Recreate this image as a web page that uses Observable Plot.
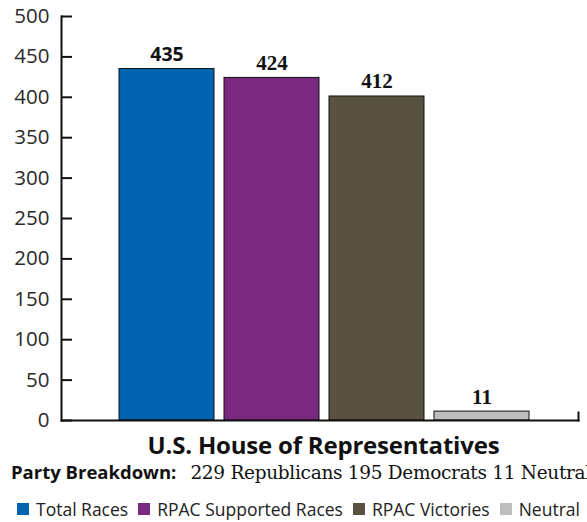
<!DOCTYPE html>
<html>
<head>
<meta charset="utf-8">
<script src="https://cdn.jsdelivr.net/npm/d3@7"></script>
<script src="https://cdn.jsdelivr.net/npm/@observablehq/plot@0.6"></script>
<style>
  body { margin: 0; background: #fff; width: 587px; overflow: hidden; }
  #chart svg { display: block; }
  .title { font-family: "Open Sans", sans-serif; font-weight: 700; font-size: 24px; color: #111;
           text-align: center; padding-left: 60px; margin-top: -1px; line-height: 27px; letter-spacing: -0.2px; }
  .sub { white-space: nowrap; margin-top: 2px; margin-left: 11px; line-height: 24px; }
  .sub b { font-family: "Open Sans", sans-serif; font-weight: 700; font-size: 18.5px; color: #111; }
  .sub span { font-family: "DejaVu Serif", serif; font-size: 18.5px; color: #111; margin-left: 14px; letter-spacing: -0.3px; }
  .legend { display: flex; margin-top: 11px; margin-left: 17px; font-family: "Open Sans", sans-serif; font-size: 17.5px; color: #222; white-space: nowrap; }
  .legend .item { display: flex; align-items: center; margin-right: 10px; }
  .legend .sw { width: 12px; height: 12px; margin-right: 7px; }
</style>
</head>
<body>
<div id="chart"></div>
<div class="title">U.S. House of Representatives</div>
<div class="sub"><b>Party Breakdown:</b><span>229 Republicans 195 Democrats 11 Neutral</span></div>
<div class="legend" id="legend"></div>
<script>
const categories = ["Total Races", "RPAC Supported Races", "RPAC Victories", "Neutral"];
const barValues = [435, 424, 401, 11];
const barLabels = ["435", "424", "412", "11"];
const colors = ["#0063B0", "#7A2980", "#5A5240", "#BDBDBD"];
const yTicks = [0, 50, 100, 150, 200, 250, 300, 350, 400, 450, 500];

const data = categories.map((c, i) => ({category: c, value: barValues[i], label: barLabels[i], color: colors[i], i}));

const W = 587, H = 432, mL = 61, mR = 9, mT = 16, mB = 12;

const chart = Plot.plot({
  width: W, height: H,
  marginLeft: mL, marginRight: mR, marginTop: mT, marginBottom: mB,
  x: {domain: categories, paddingInner: 0.1, paddingOuter: 0.5, align: 0.54, axis: null},
  y: {domain: [0, 500], axis: null},
  style: {background: "#fff"},
  marks: [
    Plot.barY(data, {x: "category", y: "value", fill: "color", stroke: "#111", strokeWidth: 1}),
    Plot.axisY(yTicks, {tickSize: 0, tickPadding: 12, fontSize: 20.5, fontFamily: "Open Sans", fill: "#2a2a2a", label: null}),
    Plot.ruleY(yTicks, {stroke: "#111", strokeWidth: 2, insetRight: W - mL - mR - 11}),
    Plot.frame({anchor: "left", stroke: "#111", strokeWidth: 2}),
    Plot.frame({anchor: "bottom", stroke: "#111", strokeWidth: 2}),
    Plot.frame({anchor: "right", stroke: "#111", strokeWidth: 2, insetTop: H - mT - mB - 8}),
    Plot.text(data.filter(d => d.i === 0), {x: "category", y: "value", text: "label", lineAnchor: "bottom", dy: -8,
      fontFamily: "Open Sans", fontWeight: "bold", fontSize: 19.5, fill: "#111"}),
    Plot.text(data.filter(d => d.i > 0), {x: "category", y: "value", text: "label", lineAnchor: "bottom", dy: -8,
      fontFamily: "Liberation Serif", fontWeight: "bold", fontSize: 21, fill: "#111"})
  ]
});
document.getElementById("chart").append(chart);

const legend = document.getElementById("legend");
categories.forEach((c, i) => {
  const it = document.createElement("div");
  it.className = "item";
  const sw = document.createElement("div");
  sw.className = "sw";
  sw.style.background = colors[i];
  it.append(sw, document.createTextNode(c));
  legend.append(it);
});
</script>
</body>
</html>
